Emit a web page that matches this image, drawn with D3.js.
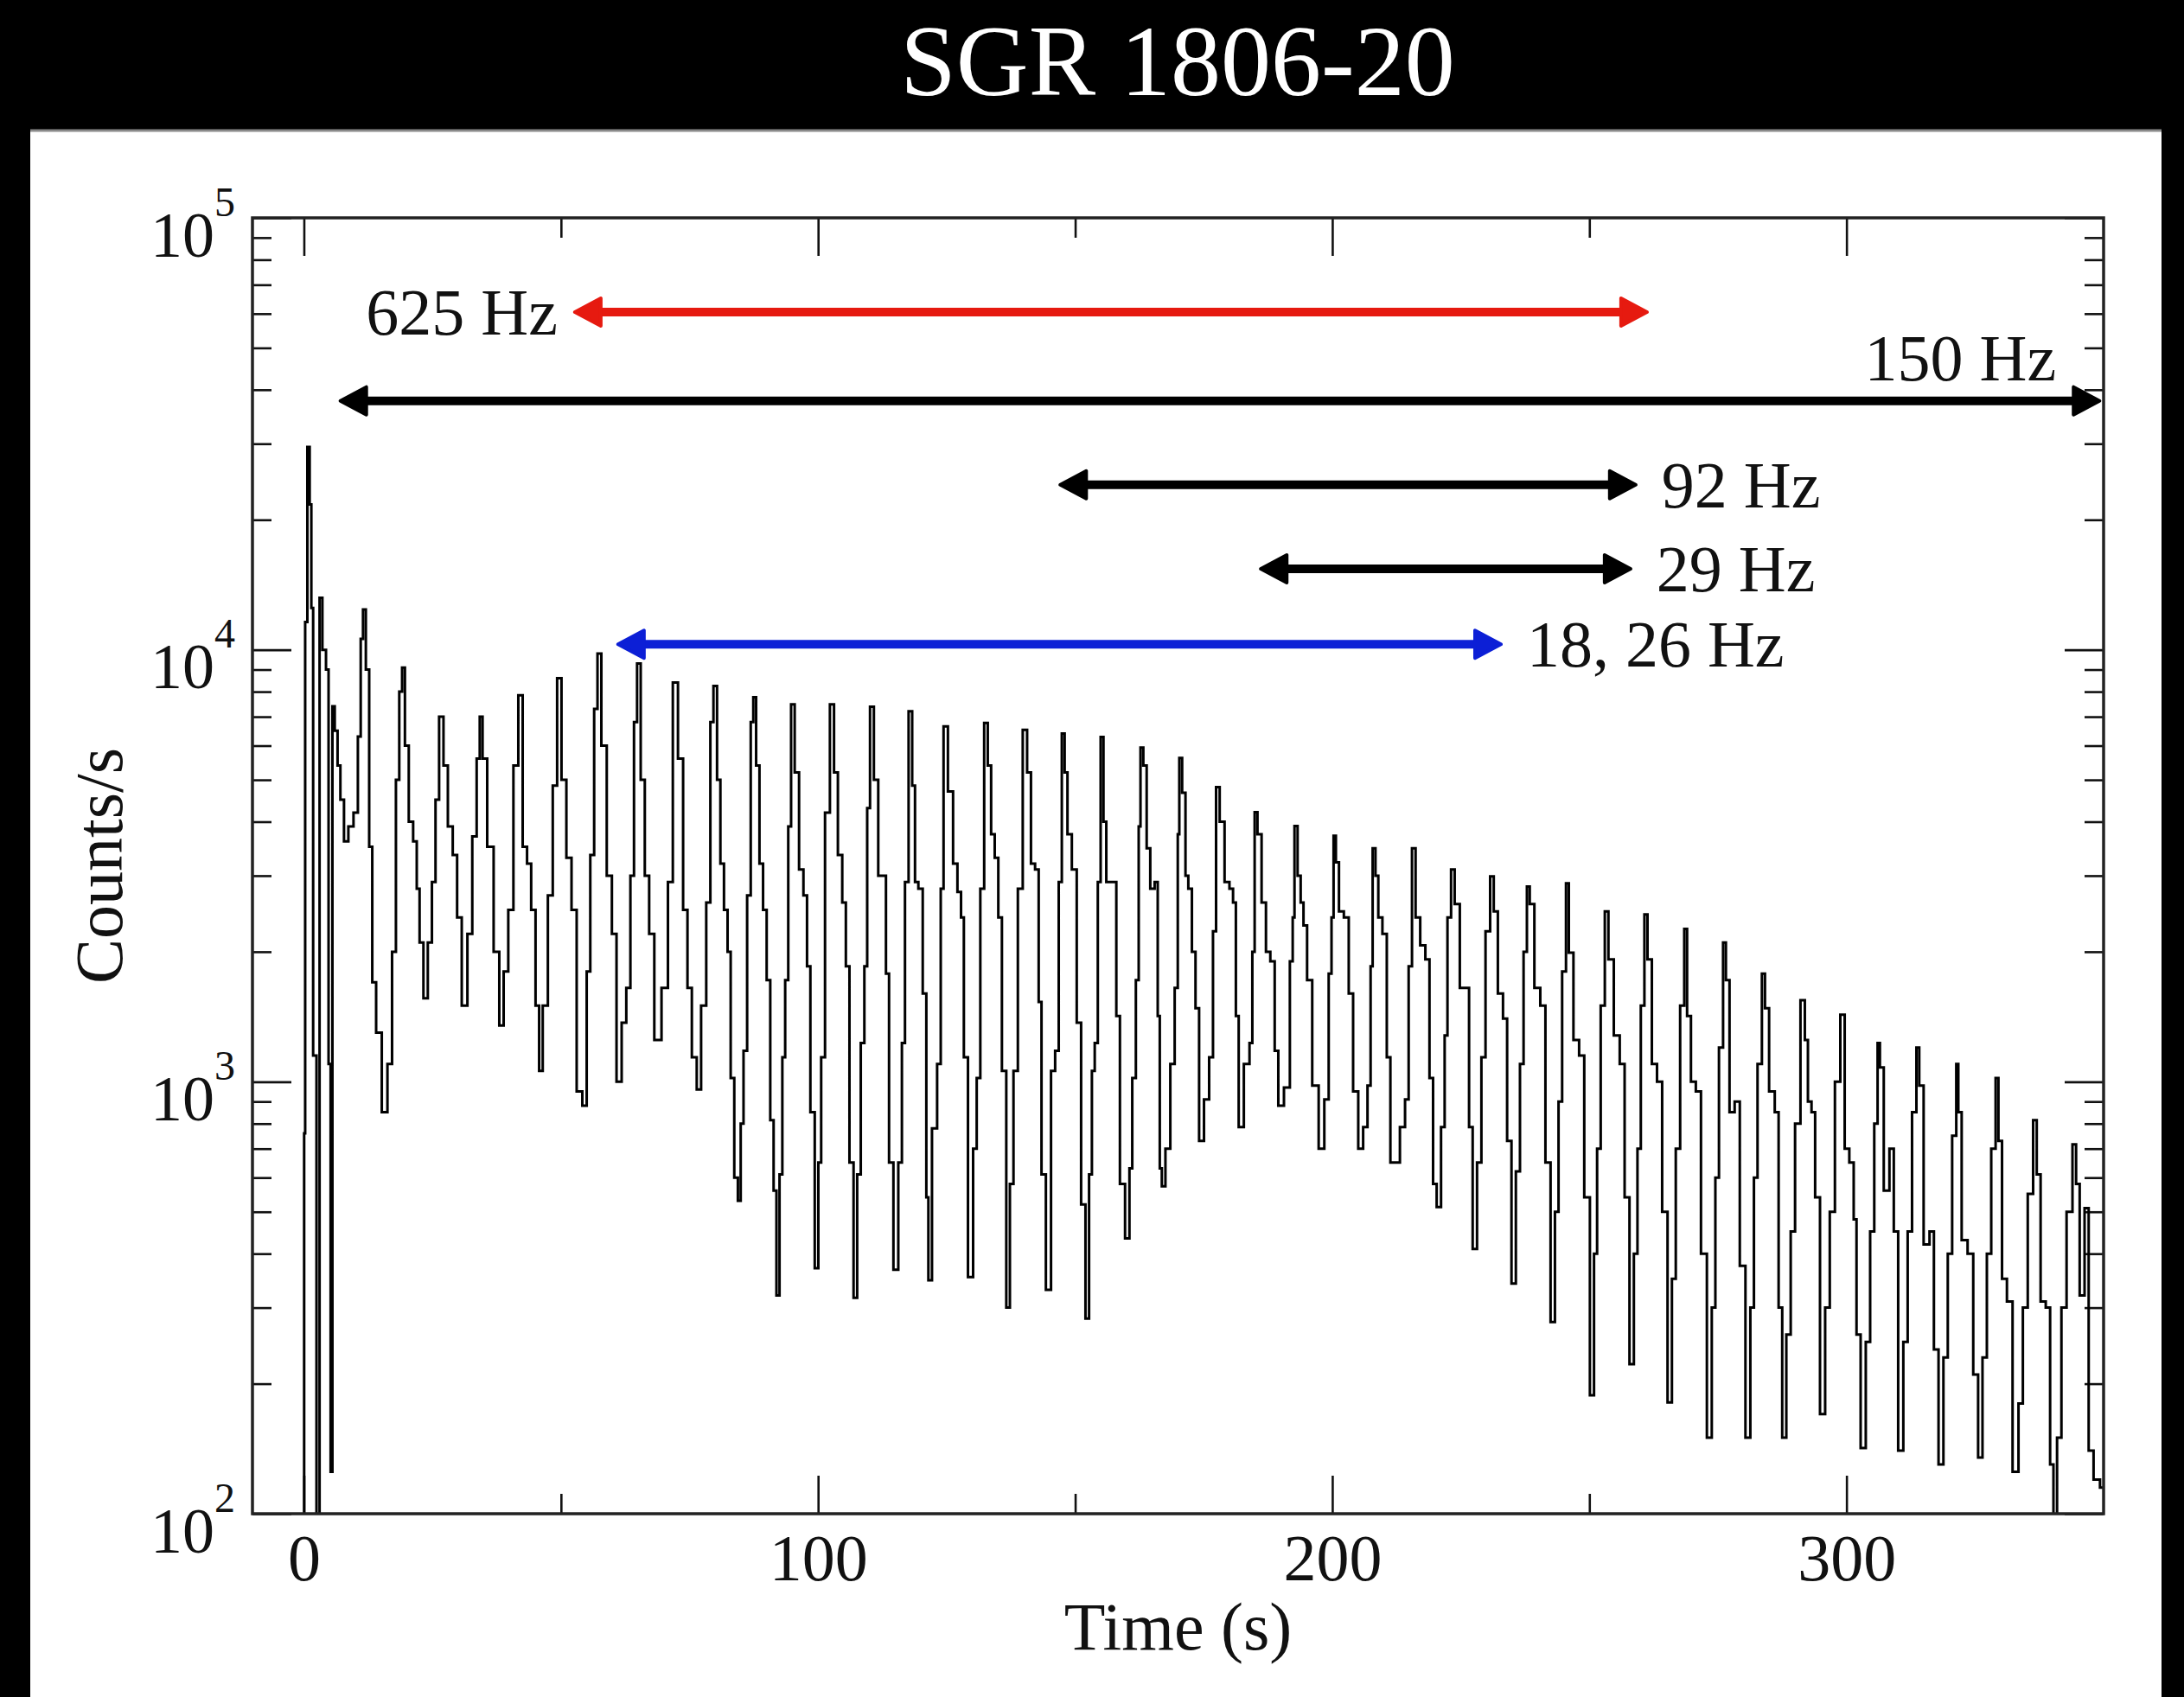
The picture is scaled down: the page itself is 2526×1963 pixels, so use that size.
<!DOCTYPE html>
<html>
<head>
<meta charset="utf-8">
<title>SGR 1806-20</title>
<script src="https://cdn.jsdelivr.net/npm/d3@7"></script>
<style>
  html, body { margin: 0; padding: 0; background: #000; }
  svg { display: block; }
  text { font-family: "Liberation Serif", "Times New Roman", serif; }
</style>
</head>
<body>
<svg id="chart"></svg>
<script>
const width  = 2526;
const height = 1963;
const margin = {top: 252, right: 93, bottom: 212, left: 292};

const title  = "SGR 1806-20";
const xLabel = "Time (s)";
const yLabel = "Counts/s";

const xTicks      = [0, 100, 200, 300];
const xMinorTicks = [50, 150, 250];
const yTicks      = [1e2, 1e3, 1e4, 1e5];

// light curve vertices (time in s, counts/s)
const timeS = [
  0.0, 0.1, 0.4, 0.95, 1.3, 1.6, 2.0, 2.9, 3.2, 4.0, 4.6, 5.0, 5.4, 5.7, 6.3, 6.8, 7.4, 8.2, 9.1, 10.2,
  10.8, 11.3, 11.7, 12.4, 13.0, 13.6, 14.5, 15.8, 16.7, 17.6, 18.2, 18.9, 19.3, 20.0, 20.8, 21.7, 22.2, 22.8, 23.7, 24.5,
  25.3, 25.9, 26.7, 27.6, 28.4, 29.5, 30.1, 31.3, 32.3, 33.2, 34.0, 34.4, 35.1, 36.2, 37.6, 38.4, 39.3, 40.2, 41.3, 42.1,
  43.0, 43.8, 44.6, 45.5, 46.0, 46.9, 48.0, 48.8, 49.7, 50.5, 51.6, 52.5, 53.6, 54.7, 55.3, 56.1, 56.8, 57.4, 58.3, 59.5,
  60.3, 61.3, 62.3, 63.1, 63.9, 64.5, 65.1, 65.9, 66.7, 67.6, 68.7, 70.4, 71.2, 72.3, 73.2, 74.3, 74.9, 76.0, 76.8, 77.7,
  78.8, 79.3, 80.0, 80.7, 81.3, 82.1, 82.7, 83.3, 84.1, 84.7, 85.2, 85.8, 86.6, 87.2, 87.6, 88.3, 88.9, 89.7, 90.3, 91.1,
  91.6, 92.2, 92.8, 93.3, 93.9, 94.5, 95.0, 95.9, 96.7, 97.6, 98.1, 98.9, 99.8, 100.3, 100.9, 101.8, 102.8, 103.4, 104.3, 105.1,
  105.7, 106.5, 107.3, 107.9, 108.7, 109.3, 109.8, 110.4, 111.3, 112.1, 112.9, 113.5, 114.1, 115.2, 116.0, 116.6, 117.2, 118.0, 118.6, 119.1,
  119.9, 120.8, 121.3, 121.6, 122.7, 123.6, 124.1, 124.7, 125.8, 126.7, 127.5, 128.1, 128.6, 129.7, 130.6, 131.1, 132.0, 132.6, 133.4, 133.9,
  134.8, 135.3, 136.2, 137.0, 137.6, 138.4, 139.3, 140.3, 141.0, 141.8, 142.6, 143.2, 143.7, 144.9, 145.7, 146.5, 147.1, 147.7, 148.2, 148.8,
  149.9, 150.7, 151.6, 152.4, 153.0, 153.5, 154.1, 154.7, 155.2, 155.8, 156.3, 157.7, 158.3, 159.1, 160.3, 160.8, 161.4, 162.2, 162.5, 162.9,
  163.6, 164.2, 165.0, 165.9, 166.2, 166.7, 167.0, 168.1, 168.9, 169.8, 170.1, 170.4, 171.2, 171.7, 172.3, 173.1, 173.7, 174.5, 175.6, 176.5,
  177.1, 177.7, 178.5, 179.6, 180.4, 181.0, 181.5, 182.1, 183.5, 184.3, 184.6, 185.2, 185.7, 186.8, 187.4, 188.5, 189.1, 189.9, 191.3, 192.2,
  192.4, 192.9, 193.6, 194.1, 194.7, 195.5, 196.7, 198.0, 198.9, 199.7, 200.0, 200.5, 200.9, 201.7, 202.8, 203.6, 204.5, 205.6, 206.4, 207.3,
  207.6, 208.1, 208.7, 209.2, 210.3, 210.9, 211.7, 212.6, 213.7, 214.6, 215.1, 215.9, 216.5, 217.7, 218.5, 219.3, 219.9, 220.7, 221.6, 222.1,
  222.7, 223.5, 224.1, 225.5, 226.3, 226.9, 227.7, 228.6, 229.4, 230.2, 231.2, 231.6, 232.8, 233.6, 234.4, 235.3, 236.1, 236.9, 237.5, 238.2,
  238.6, 240.0, 240.9, 242.0, 242.9, 243.7, 244.3, 245.1, 245.8, 246.2, 247.6, 248.4, 249.6, 250.6, 251.2, 251.8, 252.6, 253.4, 254.0, 255.5,
  256.3, 257.4, 258.2, 259.1, 259.6, 260.4, 261.0, 261.6, 262.7, 263.6, 264.7, 265.7, 266.4, 267.2, 268.1, 268.8, 269.2, 270.3, 271.1, 272.3,
  273.4, 274.2, 274.8, 275.6, 276.4, 276.7, 277.8, 278.7, 279.8, 280.9, 281.7, 282.3, 283.1, 284.0, 284.3, 285.6, 286.5, 287.1, 287.9, 288.7,
  289.6, 290.4, 291.7, 292.1, 292.9, 293.5, 294.3, 295.4, 296.3, 297.2, 298.3, 299.3, 300.0, 301.1, 301.7, 302.2, 303.3, 304.2, 305.0, 305.8,
  306.3, 306.7, 307.8, 308.9, 309.5, 310.6, 311.5, 312.3, 313.2, 314.0, 314.3, 315.7, 316.6, 317.4, 318.4, 319.3, 320.1, 321.0, 321.7, 321.8,
  323.0, 324.1, 325.2, 326.0, 326.9, 327.7, 328.6, 329.4, 329.7, 330.8, 331.6, 333.0, 333.9, 334.7, 335.8, 336.8, 337.2, 338.3, 339.2, 340.0,
  340.5, 341.4, 342.2, 343.4, 344.5, 344.8, 345.9, 346.7, 347.5, 348.6, 350.0
];
const counts = [
  60, 760, 11600, 29500, 21700, 12500, 1150, 60, 13200, 10000, 9000, 1100, 125, 7400, 6500, 5400, 4500, 3600, 3900, 4200,
  6300, 10600, 12400, 9000, 3500, 1700, 1300, 850, 1100, 2000, 5000, 8000, 9100, 6000, 4000, 3600, 2800, 2100, 1560, 2100,
  2900, 4500, 7000, 5400, 3900, 3350, 2400, 1500, 2200, 3700, 5600, 7000, 5600, 3500, 2000, 1350, 1800, 2500, 5400, 7850,
  3500, 3200, 2500, 1500, 1060, 1500, 2700, 4850, 8600, 5000, 3300, 2500, 950, 880, 1800, 3350, 7300, 9800, 6000, 3000,
  2200, 1000, 1370, 1650, 3000, 6800, 9300, 5000, 3000, 2200, 1250, 1650, 2900, 8400, 5600, 2500, 1650, 1140, 960, 1500,
  2600, 6800, 8250, 5000, 3200, 2500, 2000, 1020, 600, 530, 800, 1180, 2700, 6800, 7770, 5400, 3200, 2500, 1720, 815,
  560, 320, 610, 1140, 1720, 3900, 7480, 5200, 3100, 2700, 1850, 850, 370, 650, 1140, 4200, 7480, 5200, 3350, 2600,
  1850, 650, 316, 610, 1230, 1850, 4300, 7380, 5000, 3000, 3000, 1780, 650, 367, 650, 1230, 2900, 7210, 4850, 2900,
  2800, 1600, 540, 347, 780, 1100, 2800, 6650, 4700, 3200, 2750, 2400, 1140, 353, 700, 1020, 2800, 6770, 5400, 3740,
  3300, 2400, 1060, 300, 580, 1060, 2800, 6530, 5200, 3200, 3100, 1530, 610, 330, 1060, 1180, 2900, 6400, 5200, 3740,
  3100, 1370, 520, 283, 610, 1060, 1230, 2900, 6280, 4000, 2900, 2900, 1420, 580, 434, 630, 1020, 1720, 3900, 5940,
  5400, 3470, 2800, 2900, 1420, 630, 573, 700, 1100, 1650, 3740, 5620, 4670, 3000, 2800, 2000, 1480, 730, 910, 1140,
  2230, 4810, 4000, 2900, 2800, 2600, 1420, 785, 1100, 1230, 2000, 4210, 3740, 2600, 2000, 1900, 1180, 880, 970, 1900,
  2400, 3910, 3000, 2600, 2300, 1720, 980, 700, 910, 1780, 2400, 3710, 3220, 2480, 2400, 1600, 950, 700, 785, 980,
  1850, 3470, 3000, 2400, 2200, 1140, 650, 650, 785, 910, 1850, 3470, 2400, 2070, 1920, 1020, 580, 513, 785, 1280,
  2400, 3100, 2580, 1650, 1650, 785, 410, 650, 1140, 2230, 2990, 2480, 1600, 1400, 730, 341, 620, 1100, 2000, 2830,
  2580, 1650, 1500, 650, 278, 500, 900, 1800, 2880, 1990, 1250, 1150, 540, 188, 400, 700, 1500, 2480, 1920, 1280,
  1100, 540, 222, 400, 700, 1500, 2440, 1920, 1100, 1000, 500, 181, 350, 700, 1500, 2260, 1420, 1000, 950, 400,
  150, 300, 600, 1200, 2100, 1720, 850, 900, 375, 150, 300, 600, 1100, 1780, 1480, 950, 850, 300, 150, 260,
  450, 800, 1545, 1250, 900, 850, 540, 170, 300, 500, 1000, 1430, 700, 650, 480, 260, 142, 250, 450, 800,
  1230, 1080, 560, 700, 450, 140, 250, 450, 850, 1200, 980, 420, 450, 240, 130, 230, 400, 750, 1100, 850,
  430, 400, 210, 135, 230, 400, 700, 1020, 730, 350, 310, 125, 180, 300, 550, 815, 610, 310, 300, 130,
  98, 150, 300, 500, 716, 580, 320, 510, 140, 120, 115
];

// QPO frequency bands: time span and level of each arrow
const bandLabels = ["625 Hz", "150 Hz", "92 Hz", "29 Hz", "18, 26 Hz"];
const bandStart  = [52.7, 7.1, 147.1, 186.1, 61.1];
const bandEnd    = [261.2, 349.2, 259.0, 258.0, 232.8];
const bandLevel  = [60500, 37700, 24100, 15400, 10300];
const bandColors = ["#e61a10", "#000000", "#000000", "#000000", "#0c1fd6"];
const bandSide   = ["left", "above", "right", "right", "right"];

const svg = d3.select('#chart')
  .attr('width', width)
  .attr('height', height)
  .attr('viewBox', [0, 0, width, height]);

// black slide, white panel
svg.append('rect').attr('width', width).attr('height', height).attr('fill', '#000');
svg.append('rect')
  .attr('x', 35).attr('y', 150)
  .attr('width', 2465).attr('height', height - 150)
  .attr('fill', '#fff');
svg.append('line')
  .attr('x1', 35).attr('x2', 2500).attr('y1', 151).attr('y2', 151)
  .attr('stroke', '#8a8a8a').attr('stroke-width', 3);

svg.append('text')
  .attr('x', 1362).attr('y', 110)
  .attr('text-anchor', 'middle')
  .attr('fill', '#fff')
  .attr('font-size', 116)
  .text(title);

const x = d3.scaleLinear()
  .domain([-10, 350])
  .range([margin.left, width - margin.right]);

const y = d3.scaleLog()
  .domain([1e2, 1e5])
  .range([height - margin.bottom, margin.top]);

const plotW = width - margin.left - margin.right;
const plotH = height - margin.top - margin.bottom;

const yMinorTicks = [];
yTicks.slice(0, -1).forEach(d => d3.range(2, 10).forEach(k => yMinorTicks.push(d * k)));

const tickStyle = g => g
  .call(g => g.select('.domain').remove())
  .call(g => g.selectAll('.tick line').attr('stroke', '#111').attr('stroke-width', 2.6));

// bottom
svg.append('g')
  .attr('transform', `translate(0,${height - margin.bottom})`)
  .call(d3.axisBottom(x).tickValues(xTicks).tickSize(-44).tickFormat(d3.format('d')))
  .call(tickStyle)
  .call(g => g.selectAll('.tick text')
    .attr('y', 77).attr('dy', null)
    .attr('fill', '#111')
    .attr('font-size', 76)
    .attr('font-family', '"Liberation Serif", "Times New Roman", serif'));
svg.append('g')
  .attr('transform', `translate(0,${height - margin.bottom})`)
  .call(d3.axisBottom(x).tickValues(xMinorTicks).tickSize(-23).tickFormat(''))
  .call(tickStyle);

// top
svg.append('g')
  .attr('transform', `translate(0,${margin.top})`)
  .call(d3.axisTop(x).tickValues(xTicks).tickSize(-44).tickFormat(''))
  .call(tickStyle);
svg.append('g')
  .attr('transform', `translate(0,${margin.top})`)
  .call(d3.axisTop(x).tickValues(xMinorTicks).tickSize(-23).tickFormat(''))
  .call(tickStyle);

// left
svg.append('g')
  .attr('transform', `translate(${margin.left},0)`)
  .call(d3.axisLeft(y).tickValues(yTicks).tickSize(-45))
  .call(tickStyle)
  .call(g => g.selectAll('.tick text').each(function(d) {
    const t = d3.select(this)
      .text(null)
      .attr('x', -20).attr('y', 44).attr('dy', null)
      .attr('text-anchor', 'end')
      .attr('fill', '#111')
      .attr('font-size', 74)
      .attr('font-family', '"Liberation Serif", "Times New Roman", serif');
    t.append('tspan').text('10');
    t.append('tspan').attr('dy', -47).attr('font-size', 48).text(Math.round(Math.log10(d)));
  }));
svg.append('g')
  .attr('transform', `translate(${margin.left},0)`)
  .call(d3.axisLeft(y).tickValues(yMinorTicks).tickSize(-22).tickFormat(''))
  .call(tickStyle);

// right
svg.append('g')
  .attr('transform', `translate(${width - margin.right},0)`)
  .call(d3.axisRight(y).tickValues(yTicks).tickSize(-45).tickFormat(''))
  .call(tickStyle);
svg.append('g')
  .attr('transform', `translate(${width - margin.right},0)`)
  .call(d3.axisRight(y).tickValues(yMinorTicks).tickSize(-22).tickFormat(''))
  .call(tickStyle);

// light curve, drawn as a binned histogram line
svg.append('clipPath')
  .attr('id', 'plot-clip')
  .append('rect')
  .attr('x', margin.left).attr('y', margin.top)
  .attr('width', plotW).attr('height', plotH);

const series = timeS.map((t, i) => [t, counts[i]]);

svg.append('path')
  .datum(series)
  .attr('clip-path', 'url(#plot-clip)')
  .attr('fill', 'none')
  .attr('stroke', '#000')
  .attr('stroke-width', 3)
  .attr('d', d3.line().curve(d3.curveStep).x(d => x(d[0])).y(d => y(d[1])));

// frame
svg.append('rect')
  .attr('x', margin.left).attr('y', margin.top)
  .attr('width', plotW).attr('height', plotH)
  .attr('fill', 'none')
  .attr('stroke', '#222')
  .attr('stroke-width', 3.5);

// band arrows
const headLen = 30, headHalf = 16;
const bands = svg.append('g');
bandLabels.forEach((label, i) => {
  const x0 = x(bandStart[i]), x1 = x(bandEnd[i]), yy = y(bandLevel[i]);
  const col = bandColors[i];
  bands.append('line')
    .attr('x1', x0 + headLen - 4).attr('x2', x1 - headLen + 4)
    .attr('y1', yy).attr('y2', yy)
    .attr('stroke', col).attr('stroke-width', 10);
  bands.append('path')
    .attr('d', `M${x0},${yy}L${x0 + headLen},${yy - headHalf}L${x0 + headLen},${yy + headHalf}Z`
             + `M${x1},${yy}L${x1 - headLen},${yy - headHalf}L${x1 - headLen},${yy + headHalf}Z`)
    .attr('fill', col).attr('stroke', col)
    .attr('stroke-width', 4).attr('stroke-linejoin', 'round');

  const txt = bands.append('text')
    .attr('font-size', 76)
    .attr('fill', '#111')
    .text(label);
  if (bandSide[i] === 'left') {
    txt.attr('x', x0 - 20).attr('y', yy + 26).attr('text-anchor', 'end');
  } else if (bandSide[i] === 'above') {
    txt.attr('x', x1 - 50).attr('y', yy - 24).attr('text-anchor', 'end');
  } else {
    txt.attr('x', x1 + 30).attr('y', yy + 26).attr('text-anchor', 'start');
  }
});

// axis titles
svg.append('text')
  .attr('x', margin.left + plotW / 2).attr('y', 1908)
  .attr('text-anchor', 'middle')
  .attr('font-size', 78)
  .attr('fill', '#111')
  .text(xLabel);

svg.append('text')
  .attr('transform', `translate(141,${margin.top + plotH / 2}) rotate(-90)`)
  .attr('text-anchor', 'middle')
  .attr('font-size', 78)
  .attr('fill', '#111')
  .text(yLabel);
</script>
</body>
</html>
